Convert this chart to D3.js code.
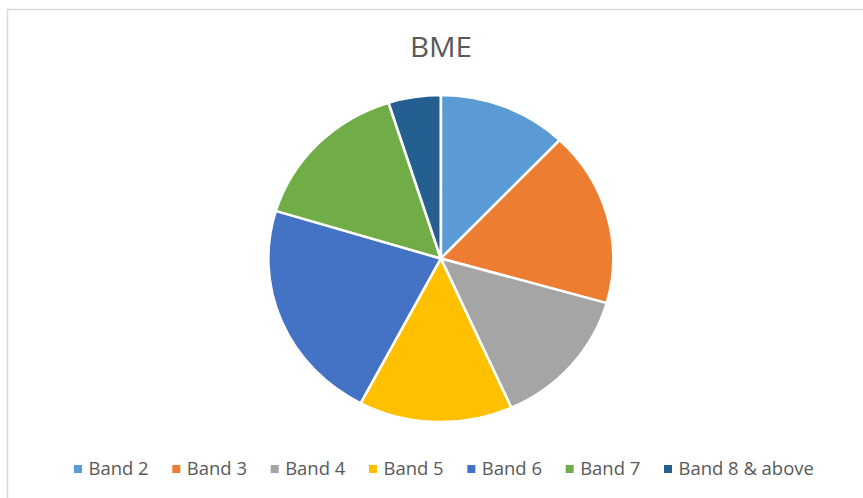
<!DOCTYPE html>
<html>
<head>
<meta charset="utf-8">
<script src="https://cdn.jsdelivr.net/npm/d3@7"></script>
<style>
  html, body { margin: 0; padding: 0; background: #ffffff; }
  svg { display: block; }
</style>
</head>
<body>
<svg id="chart" width="863" height="498"></svg>
<script>
// Share of BME staff by pay band (percent)
const bands = ["Band 2", "Band 3", "Band 4", "Band 5", "Band 6", "Band 7", "Band 8 & above"];
const shares = [12.1, 17.3, 13.9, 14.4, 22.0, 15.4, 4.9];
const bandColors = ["#5B9BD5", "#ED7D31", "#A5A5A5", "#FFC000", "#4472C4", "#70AD47", "#255E91"];
const chartTitle = "BME";

const W = 863, H = 498;
const sx = 1.055;            // slight horizontal stretch of the whole layout
const cx = 440.8, cy = 258.5, r = 163.5;
const textColor = "#595959";
const fontStack = "'Open Sans', 'DejaVu Sans', sans-serif";

const svg = d3.select("#chart");

// chart area frame
svg.append("rect")
  .attr("x", 7.5).attr("y", 9.5)
  .attr("width", W + 20).attr("height", H + 20)
  .attr("fill", "#ffffff")
  .attr("stroke", "#d9d9d9")
  .attr("stroke-width", 1.5);

// title
svg.append("text")
  .attr("transform", `translate(${441},${56.5}) scale(${sx},1)`)
  .attr("text-anchor", "middle")
  .attr("font-family", fontStack)
  .attr("font-size", 28)
  .attr("fill", textColor)
  .text(chartTitle);

// pie
const color = d3.scaleOrdinal().domain(bands).range(bandColors);
const pie = d3.pie().sort(null).value(d => d.value);
const arc = d3.arc().innerRadius(0).outerRadius(r);
const data = bands.map((b, i) => ({ band: b, value: shares[i] }));

const pg = svg.append("g")
  .attr("transform", `translate(${cx},${cy}) scale(${sx},1)`);

pg.selectAll("path")
  .data(pie(data))
  .join("path")
  .attr("d", arc)
  .attr("fill", d => color(d.data.band))
  .attr("stroke", "#ffffff")
  .attr("stroke-width", 2.5)
  .attr("stroke-linejoin", "round");

// legend
const legendX = d3.scalePoint().domain(bands).range([74, 664]);
const lg = svg.append("g");
const items = lg.selectAll("g")
  .data(bands)
  .join("g")
  .attr("transform", d => `translate(${legendX(d)},${465})`);

items.append("rect")
  .attr("width", 8).attr("height", 8)
  .attr("fill", d => color(d));

items.append("text")
  .attr("transform", `translate(${14.5},${10}) scale(${sx},1)`)
  .attr("font-family", fontStack)
  .attr("font-size", 17.5)
  .attr("fill", textColor)
  .text(d => d);
</script>
</body>
</html>
